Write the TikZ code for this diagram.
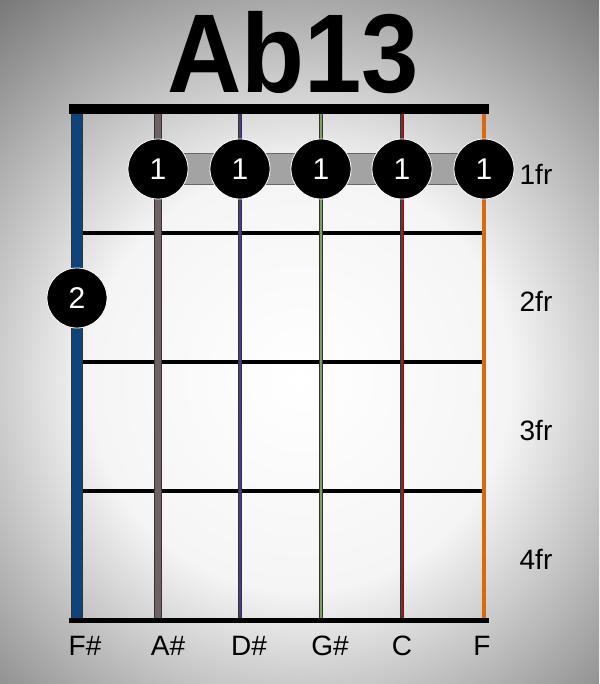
\documentclass[tikz,border=0pt]{standalone}
\usepackage{fontspec}
\setmainfont{Liberation Sans}
\definecolor{sblue}{HTML}{0F4478}
\definecolor{sbrown}{HTML}{6E6262}
\definecolor{spurple}{HTML}{4E3C86}
\definecolor{sgreen}{HTML}{7DA05A}
\definecolor{sred}{HTML}{9E1E1E}
\definecolor{sorange}{HTML}{D66A12}
\definecolor{barre}{HTML}{A3A3A3}
\pgfdeclareradialshading{vig}{\pgfpoint{0bp}{0bp}}{color(0bp)=(white); color(11bp)=(white!96!black); color(25bp)=(black!52); color(50bp)=(black!52)}
\tikzset{
  dot/.style={circle, fill=black, draw=white, line width=0.8pt, minimum size=60pt, inner sep=0pt, text=white, font=\fontsize{30}{30}\selectfont},
  lbl/.style={anchor=base, inner sep=0pt, font=\fontsize{28}{28}\selectfont},
  fretline/.style={line width=3.5pt, black},
}
\begin{document}
\begin{tikzpicture}[x=1pt, y=-1pt]
\useasboundingbox (0,0) rectangle (599,684);
\begin{scope}
\clip (0,0) rectangle (599,684);
\shade[shading=vig] (-180,-100) rectangle (780,860);
\end{scope}
% title
\node[anchor=base, inner sep=0pt, font=\bfseries\fontsize{112}{112}\selectfont] (title) at (293,93) {\scalebox{0.92}[1]{Ab13}};
% frets
\foreach \y/\n in {233/f1, 362/f2, 491/f3} {
  \coordinate (\n a) at (77,\y);
  \coordinate (\n b) at (484,\y);
  \draw[fretline] (\n a) -- (\n b);
}
% strings
\foreach \x/\n/\c/\w in {77/s1/sblue/12, 158/s2/sbrown/8, 240/s3/spurple/4, 321/s4/sgreen/3.5, 402/s5/sred/4, 484/s6/sorange/4.5} {
  \coordinate (\n t) at (\x,114);
  \coordinate (\n b) at (\x,618);
  \draw[line width=\w pt, black!80] (\n t) -- (\n b);
  \draw[line width=\w pt - 1.4pt, \c] (\n t) -- (\n b);
}
% nut and bottom
\fill[black] (69,104) rectangle (489,114);
\fill[black] (69,618) rectangle (489,623);
% barre
\node[draw=black!60, fill=barre, line width=0.6pt, minimum width=326pt, minimum height=31pt, inner sep=0pt] (barre) at (321,169) {};
% dots
\foreach \x/\n in {158/d2, 240/d3, 321/d4, 402/d5, 484/d6} {
  \node[dot] (\n) at (\x,169) {1};
}
\node[dot] (d1) at (77,298) {2};
% fret labels
\node[lbl] (fr1) at (536,185) {1fr};
\node[lbl] (fr2) at (536,311) {2fr};
\node[lbl] (fr3) at (536,440) {3fr};
\node[lbl] (fr4) at (536,569) {4fr};
% string labels
\node[lbl] (n1) at (85,655) {F\#};
\node[lbl] (n2) at (168,655) {A\#};
\node[lbl] (n3) at (249,655) {D\#};
\node[lbl] (n4) at (330,655) {G\#};
\node[lbl] (n5) at (402,655) {C};
\node[lbl] (n6) at (482,655) {F};
\end{tikzpicture}
\end{document}
